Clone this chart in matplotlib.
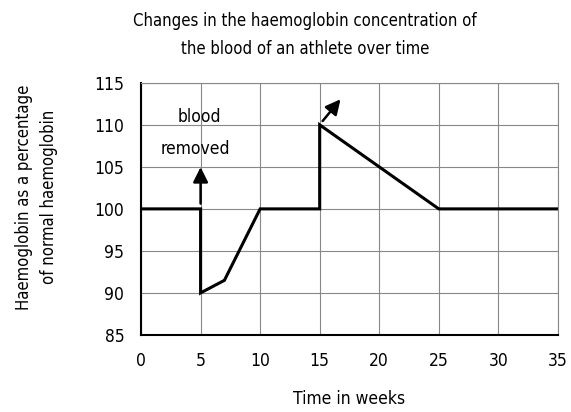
import numpy as np
import matplotlib
matplotlib.use("Agg")
import matplotlib.pyplot as plt

# Data
weeks = [0, 5, 5, 7, 10, 15, 15, 25, 35]
haemoglobin = [100, 100, 90, 91.5, 100, 100, 110, 100, 100]
x_ticks = [0, 5, 10, 15, 20, 25, 30, 35]
y_ticks = [85, 90, 95, 100, 105, 110, 115]

plt.rcParams['font.family'] = ['DejaVu Sans']
plt.rcParams['font.stretch'] = 'condensed'

fig = plt.figure(figsize=(5.71, 4.12), dpi=100)
ax = fig.add_axes([0.247, 0.187, 0.73, 0.612])

ax.plot(weeks, haemoglobin, color='black', lw=2.2, solid_joinstyle='miter')

# arrows
ax.annotate('', xy=(5, 105.3), xytext=(5, 100.3),
            arrowprops=dict(arrowstyle='-|>,head_length=0.9,head_width=0.45', color='black', lw=1.8))
ax.annotate('', xy=(16.9, 113.3), xytext=(15.1, 110.2),
            arrowprops=dict(arrowstyle='-|>,head_length=0.9,head_width=0.45', color='black', lw=1.8))
ax.text(4.9, 110.9, 'blood', ha='center', va='center', fontsize=12.5)
ax.text(4.6, 107.1, 'removed', ha='center', va='center', fontsize=12.5)

ax.set_xlim(0, 35)
ax.set_ylim(85, 115)
ax.set_xticks(x_ticks)
ax.set_yticks(y_ticks)
ax.tick_params(length=0, labelsize=12.5, pad=12)
ax.grid(True, color='#888888', lw=0.8)
for s in ['top', 'right']:
    ax.spines[s].set_color('#888888')
    ax.spines[s].set_linewidth(0.8)
for s in ['left', 'bottom']:
    ax.spines[s].set_color('black')
    ax.spines[s].set_linewidth(1.5)

ax.set_xlabel('Time in weeks', fontsize=12.5, labelpad=15)
fig.text(0.064, 0.522, 'Haemoglobin as a percentage\nof normal haemoglobin', rotation=90,
         ha='center', va='center', fontsize=12, linespacing=1.55)
fig.text(0.534, 0.916, 'Changes in the haemoglobin concentration of\nthe blood of an athlete over time',
         ha='center', va='center', fontsize=12, linespacing=1.7)

fig.savefig('out.png', dpi=100)
